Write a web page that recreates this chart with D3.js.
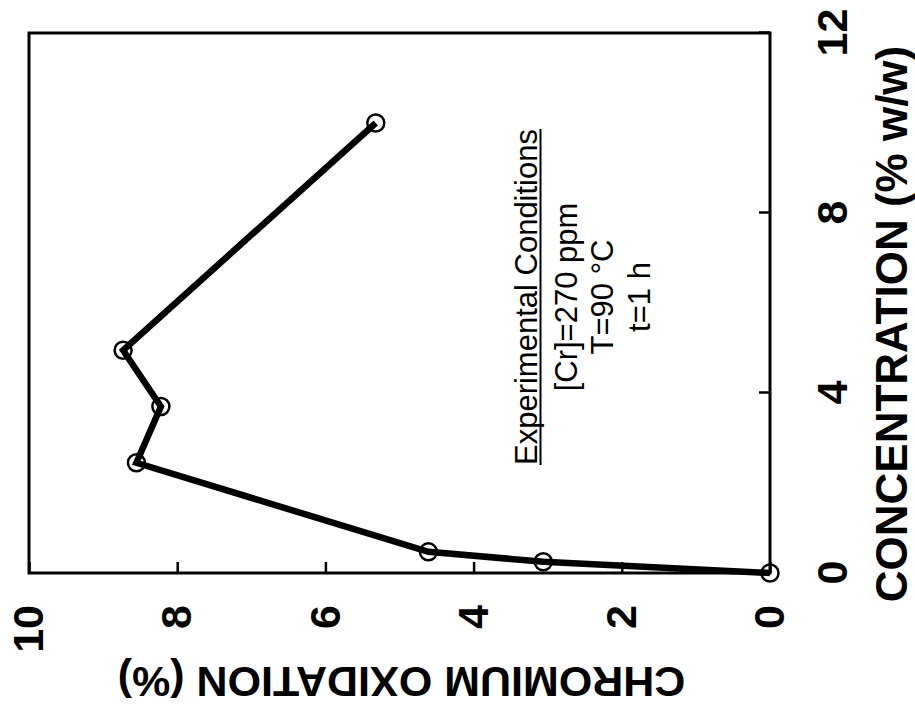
<!DOCTYPE html>
<html>
<head>
<meta charset="utf-8">
<script src="https://cdn.jsdelivr.net/npm/d3@7"></script>
<style>
    body { margin: 0; background: #fff; }
    svg { display: block; font-family: "Liberation Sans", Arial, sans-serif; }
</style>
</head>
<body>
<svg id="plate" width="915" height="711"></svg>
<script>
// concentration (% w/w) and chromium oxidation (%)
var concentration = [0, 0.25, 0.47, 2.45, 3.7, 4.95, 10];
var oxidation = [0, 3.06, 4.61, 8.55, 8.22, 8.73, 5.32];

var concTicks = [0, 4, 8, 12];
var oxTicks = [0, 2, 4, 6, 8, 10];

var concTitle = 'CONCENTRATION (% w/w)';
var oxTitle = 'CHROMIUM OXIDATION (%)';
var notes = ['Experimental Conditions', '[Cr]=270 ppm', 'T=90 \u00B0C', 't=1 h'];

// the whole figure is printed turned a quarter turn, so draw it upright and rotate the group
var margin = {top: 33, left: 29, bottom: 573};
var width = 540;   // concentration axis length
var height = 741;  // oxidation axis length

var x = d3.scaleLinear().domain([0, 12]).range([0, width]);
var y = d3.scaleLinear().domain([0, 10]).range([height, 0]);

var svg = d3.select('#plate')
    .append('g')
    .attr('transform', 'translate(' + margin.left + ',' + margin.bottom + ') rotate(-90)');

var points = concentration.map(function(c, i) { return {conc: c, ox: oxidation[i]}; });

// x axis (concentration)
var xAxis = svg.append('g')
    .attr('transform', 'translate(0,' + height + ')')
    .call(d3.axisBottom(x).tickValues(concTicks).tickSizeInner(-11).tickSizeOuter(0).tickPadding(46));

// y axis (oxidation)
var yAxis = svg.append('g')
    .call(d3.axisLeft(y).tickValues(oxTicks).tickSizeInner(-11).tickSizeOuter(0).tickPadding(32));

[xAxis, yAxis].forEach(function(ax) {
    ax.attr('font-family', null).attr('font-size', null);
    ax.select('.domain').remove();
    ax.selectAll('.tick line').attr('stroke', '#000').attr('stroke-width', 2.5);
    ax.selectAll('.tick text')
        .attr('fill', '#000')
        .style('font-size', '43px')
        .style('font-weight', 'bold');
});

// frame
svg.append('rect')
    .attr('x', 0)
    .attr('y', 0)
    .attr('width', width)
    .attr('height', height)
    .attr('fill', 'none')
    .attr('stroke', '#000')
    .attr('stroke-width', 3);

// axis titles
svg.append('text')
    .attr('x', 249)
    .attr('y', height + 137)
    .attr('text-anchor', 'middle')
    .style('font-size', '44px')
    .style('font-weight', 'bold')
    .text(concTitle);

svg.append('text')
    .attr('transform', 'translate(-94,' + (height / 2 + 2) + ') rotate(-90)')
    .attr('text-anchor', 'middle')
    .style('font-size', '43px')
    .style('font-weight', 'bold')
    .text(oxTitle);

// conditions box
var noteY = [508, 548, 584, 621];
var noteText = svg.append('g');
noteText.selectAll('text')
    .data(notes)
    .enter()
    .append('text')
    .attr('x', 276)
    .attr('y', function(d, i) { return noteY[i]; })
    .attr('text-anchor', 'middle')
    .style('font-size', '31px')
    .text(function(d) { return d; });

var headLen = noteText.select('text').node().getComputedTextLength();
noteText.append('line')
    .attr('x1', 276 - headLen / 2)
    .attr('x2', 276 + headLen / 2)
    .attr('y1', noteY[0] + 3.5)
    .attr('y2', noteY[0] + 3.5)
    .attr('stroke', '#000')
    .attr('stroke-width', 2);

// data line
var valueLine = d3.line()
    .x(function(d) { return x(d.conc); })
    .y(function(d) { return y(d.ox); });

svg.append('path')
    .datum(points)
    .attr('d', valueLine)
    .attr('fill', 'none')
    .attr('stroke', '#000')
    .attr('stroke-width', 6.5);

// open markers
svg.selectAll('circle.pt')
    .data(points)
    .enter()
    .append('circle')
    .attr('class', 'pt')
    .attr('cx', function(d) { return x(d.conc); })
    .attr('cy', function(d) { return y(d.ox); })
    .attr('r', 8.5)
    .attr('fill', 'none')
    .attr('stroke', '#000')
    .attr('stroke-width', 2.5);
</script>
</body>
</html>
